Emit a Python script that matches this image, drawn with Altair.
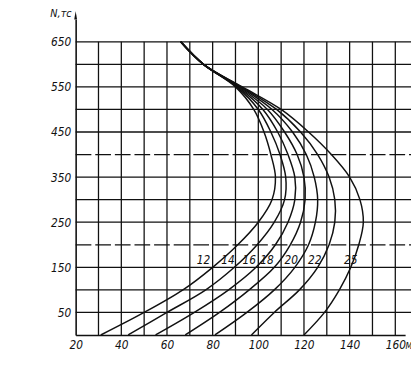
import altair as alt
import pandas as pd

# ---- data ----
M_TICKS = [20, 40, 60, 80, 100, 120, 140, 160]
N_TICKS = [50, 150, 250, 350, 450, 550, 650]
GRID_M = [30, 40, 50, 60, 70, 80, 90, 100, 110, 120, 130, 140, 150, 160]
GRID_N_SOLID = [50, 100, 150, 250, 300, 350, 450, 500, 550, 600, 650]
GRID_N_DASHED = [200, 400]

CURVES = ["12", "14", "16", "18", "20", "22", "25"]
N_PTS = [0, 50, 100, 150, 200, 250, 300, 350, 400, 450, 500, 550, 600, 650]
M_12 = [31, 50, 67, 80, 91, 100, 106, 107.5, 105.5, 102.5, 98, 90, 76, 66]
M_14 = [43, 60, 77, 89.5, 99.5, 107, 111.5, 112, 109.5, 105.5, 100, 90.5, 76, 66]
M_16 = [55, 72, 87, 99, 107.5, 113, 116, 116, 113, 108.5, 102, 91, 76, 66]
M_18 = [68, 83, 96, 107, 114, 118.5, 120.5, 120, 117, 111.5, 104, 91.5, 76, 66]
M_20 = [81, 95, 107, 116, 122, 125, 126, 124.5, 121, 115, 106, 92, 76, 66]
M_22 = [97, 107, 118, 126, 131, 133.5, 133.5, 131, 126, 118.5, 108, 92.5, 76, 66]
M_25 = [120, 129, 135.5, 140.5, 144, 146, 144.5, 140, 132, 122, 110, 93, 76, 66]
CURVE_VALUES = [M_12, M_14, M_16, M_18, M_20, M_22, M_25]

LABEL_M = [76, 86.7, 96, 103.8, 114.4, 124.7, 140.5]
LABEL_N = [166, 166, 165, 165, 165, 165, 165]

W, H = 336, 322
FONT = "DejaVu Sans Condensed, DejaVu Sans, sans-serif"
INK = "#111111"

rows = []
for name, vals in zip(CURVES, CURVE_VALUES):
    for n, m in zip(N_PTS, vals):
        rows.append({"curve": name, "N": n, "M": m})
curves_df = pd.DataFrame(rows)
labels_df = pd.DataFrame({"txt": CURVES, "M": LABEL_M, "N": LABEL_N})

xscale = alt.Scale(domain=[20, 164.3], nice=False, zero=False)
yscale = alt.Scale(domain=[0, 700], nice=False, zero=False)

xaxis = alt.Axis(values=M_TICKS, title=None, grid=False, ticks=False,
                 domainColor=INK, domainWidth=1.6, labelFont=FONT,
                 labelFontStyle="italic", labelFontSize=12, labelColor=INK,
                 labelPadding=5, labelFlush=False)
yaxis = alt.Axis(values=N_TICKS, title=None, grid=False, ticks=False,
                 domainColor=INK, domainWidth=1.6, labelFont=FONT,
                 labelFontStyle="italic", labelFontSize=12, labelColor=INK,
                 labelPadding=5, labelFlush=False)

base_axes = alt.Chart(curves_df).mark_line(opacity=0).encode(
    x=alt.X("M:Q", scale=xscale, axis=xaxis),
    y=alt.Y("N:Q", scale=yscale, axis=yaxis),
)

hgrid = alt.Chart(pd.DataFrame({"N": GRID_N_SOLID})).mark_rule(
    color=INK, strokeWidth=1.3).encode(
    y=alt.Y("N:Q", scale=yscale), x=alt.value(0), x2=alt.value(W + 6))

hgrid_d = alt.Chart(pd.DataFrame({"N": GRID_N_DASHED})).mark_rule(
    color=INK, strokeWidth=1.3, strokeDash=[16, 4]).encode(
    y=alt.Y("N:Q", scale=yscale), x=alt.value(0), x2=alt.value(W + 6))

vgrid = alt.Chart(pd.DataFrame({"M": GRID_M})).mark_rule(
    color=INK, strokeWidth=1.3).encode(
    x=alt.X("M:Q", scale=xscale), y=alt.datum(0), y2=alt.datum(650))

lines = alt.Chart(curves_df).mark_line(
    interpolate="catmull-rom", color=INK, strokeWidth=1.5).encode(
    x=alt.X("M:Q", scale=xscale),
    y=alt.Y("N:Q", scale=yscale),
    detail="curve:N",
    order="N:Q",
)

labels = alt.Chart(labels_df).mark_text(
    font=FONT, fontStyle="italic", fontSize=12, color=INK).encode(
    x=alt.X("M:Q", scale=xscale), y=alt.Y("N:Q", scale=yscale), text="txt:N")

arrow = alt.Chart(pd.DataFrame({"a": [1]})).mark_point(
    shape="M0,-1L0.35,1L-0.35,1Z", filled=True, color=INK, size=70, opacity=1).encode(
    x=alt.value(0), y=alt.value(-4))

ytitle = alt.Chart(pd.DataFrame({"t": ["N,тс"]})).mark_text(
    font=FONT, fontStyle="italic", fontSize=11, color=INK, align="center").encode(
    x=alt.value(-15), y=alt.value(-5), text="t:N")

xtitle = alt.Chart(pd.DataFrame({"t": ["M"]})).mark_text(
    font=FONT, fontStyle="italic", fontSize=9, color=INK, align="left",
    baseline="top").encode(
    x=alt.value(W + 0.5), y=alt.value(H + 7), text="t:N")

chart = alt.layer(base_axes, hgrid, hgrid_d, vgrid, lines, labels, arrow, ytitle, xtitle).properties(
    width=W, height=H,
    padding={"left": 69, "top": 8, "right": 6, "bottom": 19},
    autosize=alt.AutoSizeParams(type="none"),
    background="white",
).configure_view(stroke=None)

chart.save("out.html", embed_options={"renderer": "svg", "actions": False})
